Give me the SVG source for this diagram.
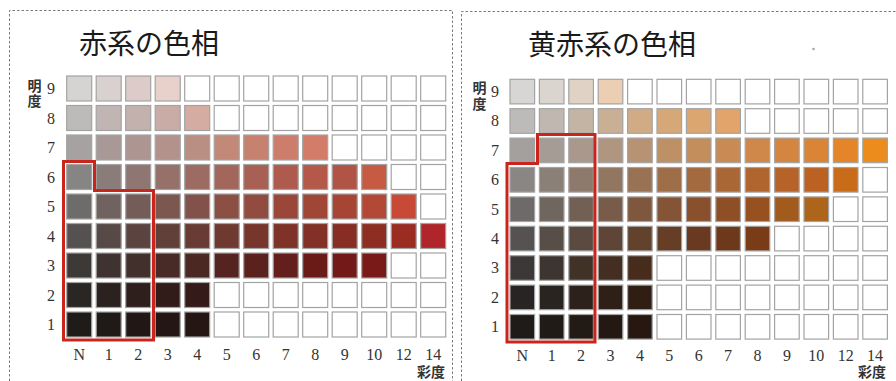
<svg xmlns="http://www.w3.org/2000/svg" width="896" height="381" viewBox="0 0 896 381">
<style>
.frame{fill:none;stroke:#7a7a7a;stroke-width:1;stroke-dasharray:2.5 2}
.c{stroke:#a3a3a3;stroke-width:1.2}
.w{fill:#ffffff}
.title{font-family:"Noto Sans CJK JP","Noto Sans CJK SC",sans-serif;font-size:28px;fill:#1a1a1a}
.num{font-family:"Liberation Serif","DejaVu Serif",serif;font-size:16px;fill:#333}
.ax{font-family:"Noto Sans CJK JP","Noto Sans CJK SC",sans-serif;font-size:14px;font-weight:bold;fill:#333}
.vert{writing-mode:vertical-rl;letter-spacing:1.5px}
.red{fill:none;stroke:#c8261c;stroke-width:3;stroke-linejoin:miter}
</style>
<rect width="896" height="381" fill="#ffffff"/>
<g id="frames">
<path class="frame" d="M9.5 381 V10.5 H452.5 V381"/>
<path class="frame" d="M461.5 381 V11.5 H896"/>
</g>

<!-- LEFT PANEL: 赤系 -->
<g id="panel-red">
<text class="title" x="79" y="54">赤系の色相</text>
<text class="ax vert" x="34.5" y="78.5">明度</text>
<g class="num" text-anchor="middle">
<text x="51" y="94">9</text><text x="51" y="123.5">8</text><text x="51" y="153">7</text><text x="51" y="182.5">6</text><text x="51" y="212">5</text><text x="51" y="241.5">4</text><text x="51" y="271">3</text><text x="51" y="300.5">2</text><text x="51" y="330">1</text>
</g>
<g class="num" text-anchor="middle">
<text x="79.2" y="360">N</text><text x="108.7" y="360">1</text><text x="138.2" y="360">2</text><text x="167.7" y="360">3</text><text x="197.2" y="360">4</text><text x="226.7" y="360">5</text><text x="256.2" y="360">6</text><text x="285.7" y="360">7</text><text x="315.2" y="360">8</text><text x="344.7" y="360">9</text><text x="374.2" y="360">10</text><text x="403.7" y="360">12</text><text x="433.2" y="360">14</text>
</g>
<text class="ax" x="417" y="377">彩度</text>
<g id="grid-red" transform="translate(66.7,76)">
<g id="r-row9">
<rect class="c" x="0" y="0" width="25" height="25" fill="#d6d4d3"/>
<rect class="c" x="29.5" y="0" width="25" height="25" fill="#d9d1cf"/>
<rect class="c" x="59" y="0" width="25" height="25" fill="#dccbc8"/>
<rect class="c" x="88.5" y="0" width="25" height="25" fill="#e8d0cb"/>
<rect class="c w" x="118" y="0" width="25" height="25"/>
<rect class="c w" x="147.5" y="0" width="25" height="25"/>
<rect class="c w" x="177" y="0" width="25" height="25"/>
<rect class="c w" x="206.5" y="0" width="25" height="25"/>
<rect class="c w" x="236" y="0" width="25" height="25"/>
<rect class="c w" x="265.5" y="0" width="25" height="25"/>
<rect class="c w" x="295" y="0" width="25" height="25"/>
<rect class="c w" x="324.5" y="0" width="25" height="25"/>
<rect class="c w" x="354" y="0" width="25" height="25"/>
</g>
<g id="r-row8">
<rect class="c" x="0" y="29.5" width="25" height="25" fill="#bdbbba"/>
<rect class="c" x="29.5" y="29.5" width="25" height="25" fill="#c0b5b3"/>
<rect class="c" x="59" y="29.5" width="25" height="25" fill="#c3b1ad"/>
<rect class="c" x="88.5" y="29.5" width="25" height="25" fill="#c9aca6"/>
<rect class="c" x="118" y="29.5" width="25" height="25" fill="#d4aca2"/>
<rect class="c w" x="147.5" y="29.5" width="25" height="25"/>
<rect class="c w" x="177" y="29.5" width="25" height="25"/>
<rect class="c w" x="206.5" y="29.5" width="25" height="25"/>
<rect class="c w" x="236" y="29.5" width="25" height="25"/>
<rect class="c w" x="265.5" y="29.5" width="25" height="25"/>
<rect class="c w" x="295" y="29.5" width="25" height="25"/>
<rect class="c w" x="324.5" y="29.5" width="25" height="25"/>
<rect class="c w" x="354" y="29.5" width="25" height="25"/>
</g>
<g id="r-row7">
<rect class="c" x="0" y="59" width="25" height="25" fill="#a5a2a1"/>
<rect class="c" x="29.5" y="59" width="25" height="25" fill="#a89896"/>
<rect class="c" x="59" y="59" width="25" height="25" fill="#ad9591"/>
<rect class="c" x="88.5" y="59" width="25" height="25" fill="#b2928b"/>
<rect class="c" x="118" y="59" width="25" height="25" fill="#b98f84"/>
<rect class="c" x="147.5" y="59" width="25" height="25" fill="#c28979"/>
<rect class="c" x="177" y="59" width="25" height="25" fill="#c7826f"/>
<rect class="c" x="206.5" y="59" width="25" height="25" fill="#cc7d6c"/>
<rect class="c" x="236" y="59" width="25" height="25" fill="#d47c6a"/>
<rect class="c w" x="265.5" y="59" width="25" height="25"/>
<rect class="c w" x="295" y="59" width="25" height="25"/>
<rect class="c w" x="324.5" y="59" width="25" height="25"/>
<rect class="c w" x="354" y="59" width="25" height="25"/>
</g>
<g id="r-row6">
<rect class="c" x="0" y="88.5" width="25" height="25" fill="#878584"/>
<rect class="c" x="29.5" y="88.5" width="25" height="25" fill="#8a7c79"/>
<rect class="c" x="59" y="88.5" width="25" height="25" fill="#8f7672"/>
<rect class="c" x="88.5" y="88.5" width="25" height="25" fill="#96716a"/>
<rect class="c" x="118" y="88.5" width="25" height="25" fill="#9c6b61"/>
<rect class="c" x="147.5" y="88.5" width="25" height="25" fill="#a3665a"/>
<rect class="c" x="177" y="88.5" width="25" height="25" fill="#a96054"/>
<rect class="c" x="206.5" y="88.5" width="25" height="25" fill="#ae5b4e"/>
<rect class="c" x="236" y="88.5" width="25" height="25" fill="#b4584a"/>
<rect class="c" x="265.5" y="88.5" width="25" height="25" fill="#b05546"/>
<rect class="c" x="295" y="88.5" width="25" height="25" fill="#c65a43"/>
<rect class="c w" x="324.5" y="88.5" width="25" height="25"/>
<rect class="c w" x="354" y="88.5" width="25" height="25"/>
</g>
<g id="r-row5">
<rect class="c" x="0" y="118" width="25" height="25" fill="#6e6b6b"/>
<rect class="c" x="29.5" y="118" width="25" height="25" fill="#6f625f"/>
<rect class="c" x="59" y="118" width="25" height="25" fill="#745c58"/>
<rect class="c" x="88.5" y="118" width="25" height="25" fill="#7b5750"/>
<rect class="c" x="118" y="118" width="25" height="25" fill="#82524a"/>
<rect class="c" x="147.5" y="118" width="25" height="25" fill="#8b4f44"/>
<rect class="c" x="177" y="118" width="25" height="25" fill="#924b3f"/>
<rect class="c" x="206.5" y="118" width="25" height="25" fill="#9a473a"/>
<rect class="c" x="236" y="118" width="25" height="25" fill="#a04636"/>
<rect class="c" x="265.5" y="118" width="25" height="25" fill="#a64533"/>
<rect class="c" x="295" y="118" width="25" height="25" fill="#b24835"/>
<rect class="c" x="324.5" y="118" width="25" height="25" fill="#c84a36"/>
<rect class="c w" x="354" y="118" width="25" height="25"/>
</g>
<g id="r-row4">
<rect class="c" x="0" y="147.5" width="25" height="25" fill="#555150"/>
<rect class="c" x="29.5" y="147.5" width="25" height="25" fill="#574946"/>
<rect class="c" x="59" y="147.5" width="25" height="25" fill="#5b4440"/>
<rect class="c" x="88.5" y="147.5" width="25" height="25" fill="#62403a"/>
<rect class="c" x="118" y="147.5" width="25" height="25" fill="#683c34"/>
<rect class="c" x="147.5" y="147.5" width="25" height="25" fill="#703930"/>
<rect class="c" x="177" y="147.5" width="25" height="25" fill="#78352b"/>
<rect class="c" x="206.5" y="147.5" width="25" height="25" fill="#7e3228"/>
<rect class="c" x="236" y="147.5" width="25" height="25" fill="#833026"/>
<rect class="c" x="265.5" y="147.5" width="25" height="25" fill="#882d23"/>
<rect class="c" x="295" y="147.5" width="25" height="25" fill="#8e2e22"/>
<rect class="c" x="324.5" y="147.5" width="25" height="25" fill="#9a2c22"/>
<rect class="c" x="354" y="147.5" width="25" height="25" fill="#b0252a"/>
</g>
<g id="r-row3">
<rect class="c" x="0" y="177" width="25" height="25" fill="#3c3937"/>
<rect class="c" x="29.5" y="177" width="25" height="25" fill="#3e3330"/>
<rect class="c" x="59" y="177" width="25" height="25" fill="#42302c"/>
<rect class="c" x="88.5" y="177" width="25" height="25" fill="#482b27"/>
<rect class="c" x="118" y="177" width="25" height="25" fill="#4c2823"/>
<rect class="c" x="147.5" y="177" width="25" height="25" fill="#552420"/>
<rect class="c" x="177" y="177" width="25" height="25" fill="#5b211d"/>
<rect class="c" x="206.5" y="177" width="25" height="25" fill="#641e1b"/>
<rect class="c" x="236" y="177" width="25" height="25" fill="#6a1b18"/>
<rect class="c" x="265.5" y="177" width="25" height="25" fill="#731a19"/>
<rect class="c" x="295" y="177" width="25" height="25" fill="#7a1a18"/>
<rect class="c w" x="324.5" y="177" width="25" height="25"/>
<rect class="c w" x="354" y="177" width="25" height="25"/>
</g>
<g id="r-row2">
<rect class="c" x="0" y="206.5" width="25" height="25" fill="#2a2624"/>
<rect class="c" x="29.5" y="206.5" width="25" height="25" fill="#2b2220"/>
<rect class="c" x="59" y="206.5" width="25" height="25" fill="#2e1f1d"/>
<rect class="c" x="88.5" y="206.5" width="25" height="25" fill="#311c1a"/>
<rect class="c" x="118" y="206.5" width="25" height="25" fill="#341a18"/>
<rect class="c w" x="147.5" y="206.5" width="25" height="25"/>
<rect class="c w" x="177" y="206.5" width="25" height="25"/>
<rect class="c w" x="206.5" y="206.5" width="25" height="25"/>
<rect class="c w" x="236" y="206.5" width="25" height="25"/>
<rect class="c w" x="265.5" y="206.5" width="25" height="25"/>
<rect class="c w" x="295" y="206.5" width="25" height="25"/>
<rect class="c w" x="324.5" y="206.5" width="25" height="25"/>
<rect class="c w" x="354" y="206.5" width="25" height="25"/>
</g>
<g id="r-row1">
<rect class="c" x="0" y="236" width="25" height="25" fill="#1e1b19"/>
<rect class="c" x="29.5" y="236" width="25" height="25" fill="#1f1917"/>
<rect class="c" x="59" y="236" width="25" height="25" fill="#211816"/>
<rect class="c" x="88.5" y="236" width="25" height="25" fill="#231614"/>
<rect class="c" x="118" y="236" width="25" height="25" fill="#251513"/>
<rect class="c w" x="147.5" y="236" width="25" height="25"/>
<rect class="c w" x="177" y="236" width="25" height="25"/>
<rect class="c w" x="206.5" y="236" width="25" height="25"/>
<rect class="c w" x="236" y="236" width="25" height="25"/>
<rect class="c w" x="265.5" y="236" width="25" height="25"/>
<rect class="c w" x="295" y="236" width="25" height="25"/>
<rect class="c w" x="324.5" y="236" width="25" height="25"/>
<rect class="c w" x="354" y="236" width="25" height="25"/>
</g>
</g>
<path id="outline-red" class="red" d="M63.5 161.5 H94.5 V190.5 H153.5 V340 H63.5 Z"/>
</g>

<!-- RIGHT PANEL: 黄赤系 -->
<g id="panel-yr">
<text class="title" x="528" y="55">黄赤系の色相</text>
<circle cx="813.5" cy="49" r="1.3" fill="#a8a8a8"/>
<text class="ax vert" x="479.5" y="81">明度</text>
<g class="num" text-anchor="middle">
<text x="495" y="97">9</text><text x="495" y="126.4">8</text><text x="495" y="155.8">7</text><text x="495" y="185.2">6</text><text x="495" y="214.6">5</text><text x="495" y="244">4</text><text x="495" y="273.4">3</text><text x="495" y="302.8">2</text><text x="495" y="332.2">1</text>
</g>
<g class="num" text-anchor="middle">
<text x="522.3" y="361">N</text><text x="551.7" y="361">1</text><text x="581.1" y="361">2</text><text x="610.5" y="361">3</text><text x="639.9" y="361">4</text><text x="669.3" y="361">5</text><text x="698.7" y="361">6</text><text x="728.1" y="361">7</text><text x="757.5" y="361">8</text><text x="786.9" y="361">9</text><text x="816.3" y="361">10</text><text x="845.7" y="361">12</text><text x="875.1" y="361">14</text>
</g>
<text class="ax" x="858" y="376.5">彩度</text>
<g id="grid-yr" transform="translate(510,79.3)">
<g id="y-row9">
<rect class="c" x="0" y="0" width="24.6" height="24.6" fill="#d8d6d4"/>
<rect class="c" x="29.4" y="0" width="24.6" height="24.6" fill="#dbd5cf"/>
<rect class="c" x="58.8" y="0" width="24.6" height="24.6" fill="#e0d2c4"/>
<rect class="c" x="88.2" y="0" width="24.6" height="24.6" fill="#eccfb2"/>
<rect class="c w" x="117.6" y="0" width="24.6" height="24.6"/>
<rect class="c w" x="147" y="0" width="24.6" height="24.6"/>
<rect class="c w" x="176.4" y="0" width="24.6" height="24.6"/>
<rect class="c w" x="205.8" y="0" width="24.6" height="24.6"/>
<rect class="c w" x="235.2" y="0" width="24.6" height="24.6"/>
<rect class="c w" x="264.6" y="0" width="24.6" height="24.6"/>
<rect class="c w" x="294" y="0" width="24.6" height="24.6"/>
<rect class="c w" x="323.4" y="0" width="24.6" height="24.6"/>
<rect class="c w" x="352.8" y="0" width="24.6" height="24.6"/>
</g>
<g id="y-row8">
<rect class="c" x="0" y="29.4" width="24.6" height="24.6" fill="#bdbbb9"/>
<rect class="c" x="29.4" y="29.4" width="24.6" height="24.6" fill="#c0b8b0"/>
<rect class="c" x="58.8" y="29.4" width="24.6" height="24.6" fill="#c4b4a4"/>
<rect class="c" x="88.2" y="29.4" width="24.6" height="24.6" fill="#c9b095"/>
<rect class="c" x="117.6" y="29.4" width="24.6" height="24.6" fill="#d0ab85"/>
<rect class="c" x="147" y="29.4" width="24.6" height="24.6" fill="#d6a878"/>
<rect class="c" x="176.4" y="29.4" width="24.6" height="24.6" fill="#dba670"/>
<rect class="c" x="205.8" y="29.4" width="24.6" height="24.6" fill="#e2a46a"/>
<rect class="c w" x="235.2" y="29.4" width="24.6" height="24.6"/>
<rect class="c w" x="264.6" y="29.4" width="24.6" height="24.6"/>
<rect class="c w" x="294" y="29.4" width="24.6" height="24.6"/>
<rect class="c w" x="323.4" y="29.4" width="24.6" height="24.6"/>
<rect class="c w" x="352.8" y="29.4" width="24.6" height="24.6"/>
</g>
<g id="y-row7">
<rect class="c" x="0" y="58.8" width="24.6" height="24.6" fill="#a3a09e"/>
<rect class="c" x="29.4" y="58.8" width="24.6" height="24.6" fill="#a69c96"/>
<rect class="c" x="58.8" y="58.8" width="24.6" height="24.6" fill="#aa988c"/>
<rect class="c" x="88.2" y="58.8" width="24.6" height="24.6" fill="#b0957f"/>
<rect class="c" x="117.6" y="58.8" width="24.6" height="24.6" fill="#b79373"/>
<rect class="c" x="147" y="58.8" width="24.6" height="24.6" fill="#bd9066"/>
<rect class="c" x="176.4" y="58.8" width="24.6" height="24.6" fill="#c38e5c"/>
<rect class="c" x="205.8" y="58.8" width="24.6" height="24.6" fill="#c98b53"/>
<rect class="c" x="235.2" y="58.8" width="24.6" height="24.6" fill="#cf884a"/>
<rect class="c" x="264.6" y="58.8" width="24.6" height="24.6" fill="#d48641"/>
<rect class="c" x="294" y="58.8" width="24.6" height="24.6" fill="#da8436"/>
<rect class="c" x="323.4" y="58.8" width="24.6" height="24.6" fill="#e4852a"/>
<rect class="c" x="352.8" y="58.8" width="24.6" height="24.6" fill="#ec8c1c"/>
</g>
<g id="y-row6">
<rect class="c" x="0" y="88.2" width="24.6" height="24.6" fill="#898684"/>
<rect class="c" x="29.4" y="88.2" width="24.6" height="24.6" fill="#8b8078"/>
<rect class="c" x="58.8" y="88.2" width="24.6" height="24.6" fill="#8e7a6c"/>
<rect class="c" x="88.2" y="88.2" width="24.6" height="24.6" fill="#93765f"/>
<rect class="c" x="117.6" y="88.2" width="24.6" height="24.6" fill="#997253"/>
<rect class="c" x="147" y="88.2" width="24.6" height="24.6" fill="#9e6e49"/>
<rect class="c" x="176.4" y="88.2" width="24.6" height="24.6" fill="#a46a3f"/>
<rect class="c" x="205.8" y="88.2" width="24.6" height="24.6" fill="#aa6736"/>
<rect class="c" x="235.2" y="88.2" width="24.6" height="24.6" fill="#b0652f"/>
<rect class="c" x="264.6" y="88.2" width="24.6" height="24.6" fill="#b66228"/>
<rect class="c" x="294" y="88.2" width="24.6" height="24.6" fill="#bb6122"/>
<rect class="c" x="323.4" y="88.2" width="24.6" height="24.6" fill="#c96c1a"/>
<rect class="c w" x="352.8" y="88.2" width="24.6" height="24.6"/>
</g>
<g id="y-row5">
<rect class="c" x="0" y="117.6" width="24.6" height="24.6" fill="#6d6a69"/>
<rect class="c" x="29.4" y="117.6" width="24.6" height="24.6" fill="#6f6660"/>
<rect class="c" x="58.8" y="117.6" width="24.6" height="24.6" fill="#736055"/>
<rect class="c" x="88.2" y="117.6" width="24.6" height="24.6" fill="#785b49"/>
<rect class="c" x="117.6" y="117.6" width="24.6" height="24.6" fill="#7e573e"/>
<rect class="c" x="147" y="117.6" width="24.6" height="24.6" fill="#835435"/>
<rect class="c" x="176.4" y="117.6" width="24.6" height="24.6" fill="#88502d"/>
<rect class="c" x="205.8" y="117.6" width="24.6" height="24.6" fill="#8e4e26"/>
<rect class="c" x="235.2" y="117.6" width="24.6" height="24.6" fill="#975020"/>
<rect class="c" x="264.6" y="117.6" width="24.6" height="24.6" fill="#a25a1d"/>
<rect class="c" x="294" y="117.6" width="24.6" height="24.6" fill="#ad641b"/>
<rect class="c w" x="323.4" y="117.6" width="24.6" height="24.6"/>
<rect class="c w" x="352.8" y="117.6" width="24.6" height="24.6"/>
</g>
<g id="y-row4">
<rect class="c" x="0" y="147" width="24.6" height="24.6" fill="#555251"/>
<rect class="c" x="29.4" y="147" width="24.6" height="24.6" fill="#574e48"/>
<rect class="c" x="58.8" y="147" width="24.6" height="24.6" fill="#5a4a3f"/>
<rect class="c" x="88.2" y="147" width="24.6" height="24.6" fill="#5e4535"/>
<rect class="c" x="117.6" y="147" width="24.6" height="24.6" fill="#62412d"/>
<rect class="c" x="147" y="147" width="24.6" height="24.6" fill="#663d25"/>
<rect class="c" x="176.4" y="147" width="24.6" height="24.6" fill="#6a3a20"/>
<rect class="c" x="205.8" y="147" width="24.6" height="24.6" fill="#6e381b"/>
<rect class="c" x="235.2" y="147" width="24.6" height="24.6" fill="#7a3c17"/>
<rect class="c w" x="264.6" y="147" width="24.6" height="24.6"/>
<rect class="c w" x="294" y="147" width="24.6" height="24.6"/>
<rect class="c w" x="323.4" y="147" width="24.6" height="24.6"/>
<rect class="c w" x="352.8" y="147" width="24.6" height="24.6"/>
</g>
<g id="y-row3">
<rect class="c" x="0" y="176.4" width="24.6" height="24.6" fill="#3b3837"/>
<rect class="c" x="29.4" y="176.4" width="24.6" height="24.6" fill="#3e3530"/>
<rect class="c" x="58.8" y="176.4" width="24.6" height="24.6" fill="#413228"/>
<rect class="c" x="88.2" y="176.4" width="24.6" height="24.6" fill="#442e21"/>
<rect class="c" x="117.6" y="176.4" width="24.6" height="24.6" fill="#472b1b"/>
<rect class="c w" x="147" y="176.4" width="24.6" height="24.6"/>
<rect class="c w" x="176.4" y="176.4" width="24.6" height="24.6"/>
<rect class="c w" x="205.8" y="176.4" width="24.6" height="24.6"/>
<rect class="c w" x="235.2" y="176.4" width="24.6" height="24.6"/>
<rect class="c w" x="264.6" y="176.4" width="24.6" height="24.6"/>
<rect class="c w" x="294" y="176.4" width="24.6" height="24.6"/>
<rect class="c w" x="323.4" y="176.4" width="24.6" height="24.6"/>
<rect class="c w" x="352.8" y="176.4" width="24.6" height="24.6"/>
</g>
<g id="y-row2">
<rect class="c" x="0" y="205.8" width="24.6" height="24.6" fill="#282423"/>
<rect class="c" x="29.4" y="205.8" width="24.6" height="24.6" fill="#2a2420"/>
<rect class="c" x="58.8" y="205.8" width="24.6" height="24.6" fill="#2c221b"/>
<rect class="c" x="88.2" y="205.8" width="24.6" height="24.6" fill="#2e2017"/>
<rect class="c" x="117.6" y="205.8" width="24.6" height="24.6" fill="#301e14"/>
<rect class="c w" x="147" y="205.8" width="24.6" height="24.6"/>
<rect class="c w" x="176.4" y="205.8" width="24.6" height="24.6"/>
<rect class="c w" x="205.8" y="205.8" width="24.6" height="24.6"/>
<rect class="c w" x="235.2" y="205.8" width="24.6" height="24.6"/>
<rect class="c w" x="264.6" y="205.8" width="24.6" height="24.6"/>
<rect class="c w" x="294" y="205.8" width="24.6" height="24.6"/>
<rect class="c w" x="323.4" y="205.8" width="24.6" height="24.6"/>
<rect class="c w" x="352.8" y="205.8" width="24.6" height="24.6"/>
</g>
<g id="y-row1">
<rect class="c" x="0" y="235.2" width="24.6" height="24.6" fill="#1e1b19"/>
<rect class="c" x="29.4" y="235.2" width="24.6" height="24.6" fill="#201b17"/>
<rect class="c" x="58.8" y="235.2" width="24.6" height="24.6" fill="#221a14"/>
<rect class="c" x="88.2" y="235.2" width="24.6" height="24.6" fill="#241912"/>
<rect class="c" x="117.6" y="235.2" width="24.6" height="24.6" fill="#261810"/>
<rect class="c w" x="147" y="235.2" width="24.6" height="24.6"/>
<rect class="c w" x="176.4" y="235.2" width="24.6" height="24.6"/>
<rect class="c w" x="205.8" y="235.2" width="24.6" height="24.6"/>
<rect class="c w" x="235.2" y="235.2" width="24.6" height="24.6"/>
<rect class="c w" x="264.6" y="235.2" width="24.6" height="24.6"/>
<rect class="c w" x="294" y="235.2" width="24.6" height="24.6"/>
<rect class="c w" x="323.4" y="235.2" width="24.6" height="24.6"/>
<rect class="c w" x="352.8" y="235.2" width="24.6" height="24.6"/>
</g>
</g>
<path id="outline-yr" class="red" d="M507 163.5 H537.5 V134.5 H595 V342 H507 Z"/>
</g>
</svg>
